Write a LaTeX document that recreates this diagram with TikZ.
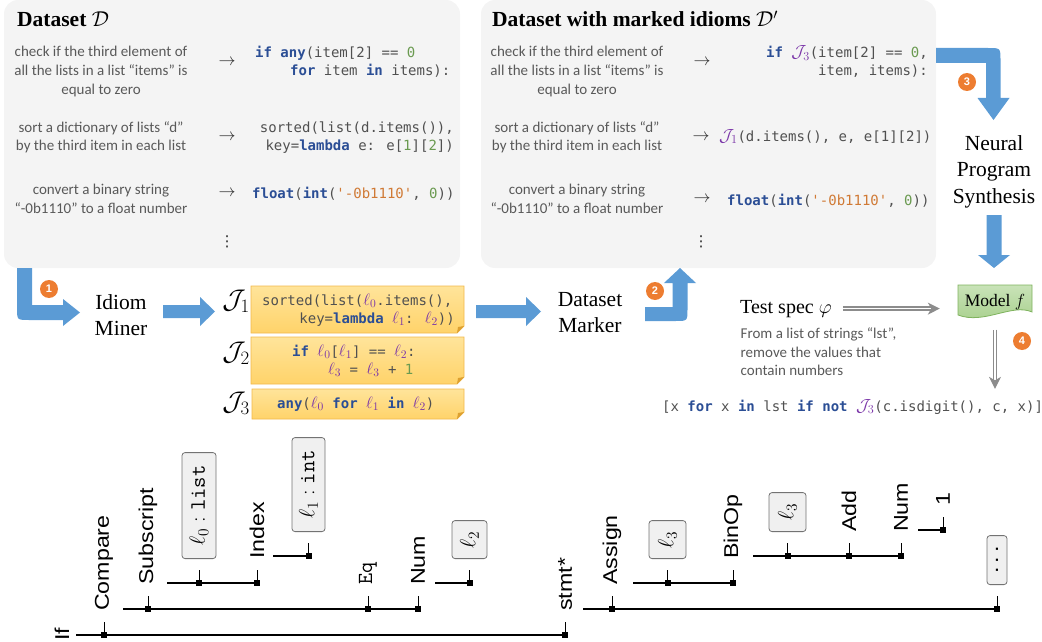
\documentclass[tikz,border=0pt]{standalone}
\usepackage{fix-cm}
\usepackage{fontspec}
\setmainfont{Liberation Serif}
\newfontfamily\calib{Carlito}
\newfontfamily\codefont{DejaVu Sans Mono}
\newfontfamily\treefont{Liberation Sans}[FakeStretch=1.16]
\newfontfamily\badgefont{Liberation Sans}
\newfontfamily\symfont{DejaVu Sans}
\usetikzlibrary{arrows.meta}

\definecolor{panelbg}{HTML}{F4F4F4}
\definecolor{arrblue}{HTML}{5B9BD5}
\definecolor{orng}{HTML}{ED7D31}
\definecolor{txtgray}{HTML}{595959}
\definecolor{codegray}{HTML}{505050}
\definecolor{kwblue}{HTML}{2B4E95}
\definecolor{numgreen}{HTML}{6A9A50}
\definecolor{strorange}{HTML}{D07A35}
\definecolor{idpurple}{HTML}{7A35A8}
\definecolor{notetop}{HTML}{FFE49A}
\definecolor{notebot}{HTML}{FFD36A}
\definecolor{noteedge}{HTML}{F2B84B}
\definecolor{notefold}{HTML}{DDA030}
\definecolor{mtop}{HTML}{C9E3B8}
\definecolor{mbot}{HTML}{A6CF8A}
\definecolor{medge}{HTML}{7FB35E}
\definecolor{dblgray}{HTML}{8C8C8C}
\definecolor{boxgray}{HTML}{F0F0F0}

\newcommand\ckw[1]{\textcolor{kwblue}{\bfseries #1}}
\newcommand\cnm[1]{\textcolor{numgreen}{#1}}
\newcommand\cst[1]{\textcolor{strorange}{#1}}
\newcommand\cid[1]{\textcolor{idpurple}{\fontsize{16.5}{17}\selectfont$\ell_{#1}$}}
\newcommand\cJ[1]{\textcolor{idpurple}{\fontsize{17.5}{17}\selectfont$\mathcal{J}_{#1}$}}
\newcommand\cquote{\XeTeXglyph\XeTeXcharglyph"27\relax}

\newcommand\yellownote[4]{%
  \path[draw=noteedge, top color=notetop, bottom color=notebot, line width=0.8pt]
    (#1,#2) -- (#3,#2) -- (#3,#4-7) -- (#3-7,#4) -- (#1,#4) -- cycle;
  \fill[notefold] (#3,#4-7) -- (#3-7,#4) -- (#3-6,#4-6) -- cycle;}

\newcommand\tkid[5]{%
  \node[tmark] (m#1) at (#2,#3) {};
  \node[#4] (#1) at (#2,#3-24) {#5};
  \draw[ttick] (m#1.center) -- (#1.west);}

\tikzset{
 codetxt/.style={font=\codefont\fontsize{14}{17}\selectfont, text=codegray, inner sep=0pt},
 desctxt/.style={font=\calib\fontsize{15}{18.5}\selectfont, text=txtgray, inner sep=0pt},
 serifbig/.style={font=\fontsize{21.5}{26}\selectfont, align=center, inner sep=0pt},
 ttl/.style={font=\bfseries\fontsize{21.5}{26}\selectfont, anchor=base west, inner sep=0pt},
 maparrow/.style={font=\fontsize{17}{17}\selectfont, inner sep=0pt, text=black!85},
 vdotstxt/.style={font=\symfont\fontsize{15}{15}\selectfont, inner sep=0pt, text=black!85},
 badge/.style={circle, fill=orng, text=white, font=\badgefont\bfseries\fontsize{11}{11}\selectfont, minimum size=18pt, inner sep=0pt},
 panel/.style={fill=panelbg, rounded corners=14pt},
 tlabel/.style={font=\treefont\fontsize{20}{20}\selectfont, rotate=90, anchor=west, inner sep=0pt},
 tbox/.style={draw=black!55, fill=boxgray, rounded corners=3pt, rotate=90, anchor=west, inner sep=0pt, line width=0.8pt, font=\fontsize{22}{22}\selectfont},
 tmark/.style={fill=black, rectangle, minimum size=6pt, inner sep=0pt},
 tline/.style={line width=1.2pt},
 ttick/.style={line width=0.9pt, shorten >=11pt},
 dblarrow/.style={draw=dblgray, double=white, double distance=1.8pt, line width=1.2pt, -{Stealth[length=12pt,width=12pt,inset=3.5pt]}},
 jlabel/.style={font=\fontsize{27}{27}\selectfont, inner sep=0pt},
}

\begin{document}
\begin{tikzpicture}[x=1pt,y=-1pt]
\useasboundingbox (0,0) rectangle (1042,642);

% panels
\fill[panel] (4,0) rectangle (460,268);
\fill[panel] (481,0) rectangle (936,268);

% titles
\node[ttl] (t1) at (17,27) {Dataset $\mathcal{D}$};
\node[ttl] (t2) at (492,27) {Dataset with marked idioms $\mathcal{D}'$};

% descriptions, left and right
\foreach \cx/\pre in {101/L,577/R}{
  \node[desctxt, anchor=base] (\pre a1) at (\cx,57) {check if the third element of};
  \node[desctxt, anchor=base] (\pre a2) at (\cx,76) {all the lists in a list “items” is};
  \node[desctxt, anchor=base] (\pre a3) at (\cx,95) {equal to zero};
  \node[desctxt, anchor=base] (\pre b1) at (\cx,132) {sort a dictionary of lists “d”};
  \node[desctxt, anchor=base] (\pre b2) at (\cx,150) {by the third item in each list};
  \node[desctxt, anchor=base] (\pre c1) at (\cx,194) {convert a binary string};
  \node[desctxt, anchor=base] (\pre c2) at (\cx,213) {“-0b1110” to a float number};
}

% mapping arrows and dots
\node[maparrow] (La) at (227,62) {$\rightarrow$};
\node[maparrow] (Lb) at (227,137) {$\rightarrow$};
\node[maparrow] (Lc) at (227,193) {$\rightarrow$};
\node[maparrow] (Ra) at (702,62) {$\rightarrow$};
\node[maparrow] (Rb) at (701,137) {$\rightarrow$};
\node[maparrow] (Rc) at (702,199) {$\rightarrow$};
\node[vdotstxt] (Ld) at (227,242) {⋮};
\node[vdotstxt] (Rd) at (701,242) {⋮};

% code, left panel
\node[codetxt, anchor=base west] (c1a) at (255,58) {\ckw{if} \ckw{any}(item[2] == \cnm{0}};
\node[codetxt, anchor=base west] (c1b) at (290,76) {\ckw{for} item \ckw{in} items):};
\node[codetxt, anchor=base east] (c2a) at (454,132) {sorted(list(d.items()),};
\node[codetxt, anchor=base east] (c2b) at (454,150) {key=\ckw{lambda} e: e[\cnm{1}][\cnm{2}])};
\node[codetxt, anchor=base west] (c3) at (252,198) {\ckw{float}(\ckw{int}(\cst{\cquote-0b1110\cquote}, \cnm{0}))};

% code, right panel
\node[codetxt, anchor=base east] (d1a) at (928,58) {\ckw{if} \cJ{3}(item[2] == \cnm{0},};
\node[codetxt, anchor=base east] (d1b) at (928,76) {item, items):};
\node[codetxt, anchor=base west] (d2) at (719,141) {\cJ{1}(d.items(), e, e[1][2])};
\node[codetxt, anchor=base west] (d3) at (727,205) {\ckw{float}(\ckw{int}(\cst{\cquote-0b1110\cquote}, \cnm{0}))};

% block arrows
\fill[arrblue] (17,268) -- (17,308) .. controls (17,320) .. (29,320) -- (63,320) -- (63,326) -- (80,312.5) -- (63,299) -- (63,305) -- (32,305) -- (32,268) -- cycle;
\fill[arrblue] (163,305) -- (200,305) -- (200,297) -- (215,311.5) -- (200,326) -- (200,318) -- (163,318) -- cycle;
\fill[arrblue] (476,305) -- (526,305) -- (526,297) -- (541,311.5) -- (526,326) -- (526,318) -- (476,318) -- cycle;
\fill[arrblue] (645,307) -- (672.5,307) -- (672.5,283) -- (664,283) -- (680,268) -- (696,283) -- (687.5,283) -- (687.5,309) .. controls (687.5,321) .. (675.5,321) -- (645,321) -- cycle;
\fill[arrblue] (936,48) -- (988,48) .. controls (1000.5,48) .. (1000.5,60) -- (1000.5,98) -- (1009.5,98) -- (993.5,120) -- (977.5,98) -- (986,98) -- (986,63) -- (936,63) -- cycle;
\fill[arrblue] (986.5,215) -- (1001.5,215) -- (1001.5,255) -- (1010,255) -- (994,268) -- (978,255) -- (986.5,255) -- cycle;

% badges
\node[badge] (b1) at (49,289) {1};
\node[badge] (b2) at (655,291) {2};
\node[badge] (b3) at (967,82) {3};
\node[badge] (b4) at (1022,341) {4};

% big serif labels
\node[serifbig] (miner) at (121,315) {Idiom\\Miner};
\node[serifbig] (marker) at (590,313) {Dataset\\Marker};
\node[serifbig, font=\fontsize{21.5}{26.5}\selectfont] (nps) at (994,171.5) {Neural\\Program\\Synthesis};

% idioms
\node[jlabel] (J1) at (236,301) {$\mathcal{J}_1$};
\node[jlabel] (J2) at (236,353) {$\mathcal{J}_2$};
\node[jlabel] (J3) at (236,403) {$\mathcal{J}_3$};
\yellownote{251}{286}{464}{333}
\yellownote{251}{337}{464}{384}
\yellownote{252}{389}{464}{419}
\node[codetxt, anchor=base west] (i1a) at (262,305) {sorted(list(\cid{0}.items(),};
\node[codetxt, anchor=base east] (i1b) at (455,323) {key=\ckw{lambda} \cid{1}: \cid{2}))};
\node[codetxt, anchor=base west] (i2a) at (292,356) {\ckw{if} \cid{0}[\cid{1}] == \cid{2}:};
\node[codetxt, anchor=base west] (i2b) at (328,374) {\cid{3} = \cid{3} + \cnm{1}};
\node[codetxt, anchor=base west] (i3) at (277,408) {\ckw{any}(\cid{0} \ckw{for} \cid{1} \ckw{in} \cid{2})};

% model and test spec
\path[draw=medge, top color=mtop, bottom color=mbot, line width=0.8pt]
  (958,285) -- (1032,285) -- (1032,312) .. controls (1012,303) and (984,325) .. (958,315) -- cycle;
\node[font=\fontsize{17.5}{20}\selectfont, minimum width=74pt, minimum height=30pt, inner sep=0pt] (model) at (995,302.5) {Model $f$};
\node[font=\fontsize{20}{24}\selectfont, anchor=base west, inner sep=0pt] (spec) at (740,313) {Test spec $\varphi$};
\node[desctxt, anchor=base west] (s1) at (740.5,338) {From a list of strings “lst”,};
\node[desctxt, anchor=base west] (s2) at (740.5,357) {remove the values that};
\node[desctxt, anchor=base west] (s3) at (740.5,375) {contain numbers};
\node[codetxt, anchor=base west] (out) at (662,411) {[x \ckw{for} x \ckw{in} lst \ckw{if} \ckw{not} \cJ{3}(c.isdigit(), c, x)]};
\draw[dblarrow, shorten <=11pt, shorten >=18pt] (spec.east) -- (spec.east -| model.west);
\draw[dblarrow, shorten <=12pt, shorten >=10pt] (model.south) -- (model.south |- out.north);

% AST tree
\node[tlabel] (If) at (62,641) {If};
\coordinate (sIf) at (76,635);
\tkid{Cmp}{104}{635}{tlabel}{Compare}
\tkid{Stm}{565}{635}{tlabel}{stmt*}
\draw[tline] (sIf) -- (mStm.center);
\coordinate (sCmp) at (123,609);
\tkid{Sub}{148}{609}{tlabel}{Subscript}
\tkid{Eq}{368}{609}{tlabel, font=\ttfamily\fontsize{21.5}{21.5}\selectfont}{Eq}
\tkid{NumA}{418}{609}{tlabel}{Num}
\draw[tline] (sCmp) -- (mNumA.center);
\coordinate (sSub) at (167,583);
\tkid{LZero}{199}{583}{tbox, minimum width=106pt, minimum height=34pt}{$\ell_0:\texttt{list}$}
\tkid{Idx}{257}{583}{tlabel}{Index}
\draw[tline] (sSub) -- (mIdx.center);
\coordinate (sIdx) at (273,556);
\tkid{LOne}{308.5}{556}{tbox, minimum width=94pt, minimum height=33pt}{$\ell_1:\texttt{int}$}
\draw[tline] (sIdx) -- (mLOne.center);
\coordinate (sNumA) at (435,583);
\tkid{LTwo}{469.5}{583}{tbox, minimum width=38pt, minimum height=35pt}{$\ell_2$}
\draw[tline] (sNumA) -- (mLTwo.center);
\coordinate (sStm) at (583,609);
\tkid{Asg}{612}{609}{tlabel}{Assign}
\tkid{Dots}{997}{609}{tbox, minimum width=49pt, minimum height=20pt}{{\treefont\fontsize{20}{20}\selectfont .\hspace{4pt}.\hspace{4pt}.}}
\draw[tline] (sStm) -- (mDots.center);
\coordinate (sAsg) at (633,583);
\tkid{LThrA}{667.5}{583}{tbox, minimum width=38pt, minimum height=37pt}{$\ell_3$}
\tkid{Bin}{733}{583}{tlabel}{BinOp}
\draw[tline] (sAsg) -- (mBin.center);
\coordinate (sBin) at (753,556);
\tkid{LThrB}{787.5}{556}{tbox, minimum width=39pt, minimum height=37pt}{$\ell_3$}
\tkid{Add}{849}{556}{tlabel}{Add}
\tkid{NumB}{901}{556}{tlabel}{Num}
\draw[tline] (sBin) -- (mNumB.center);
\coordinate (sNumB) at (918,530);
\tkid{One}{943}{530}{tlabel}{1}
\draw[tline] (sNumB) -- (mOne.center);
\end{tikzpicture}
\end{document}
